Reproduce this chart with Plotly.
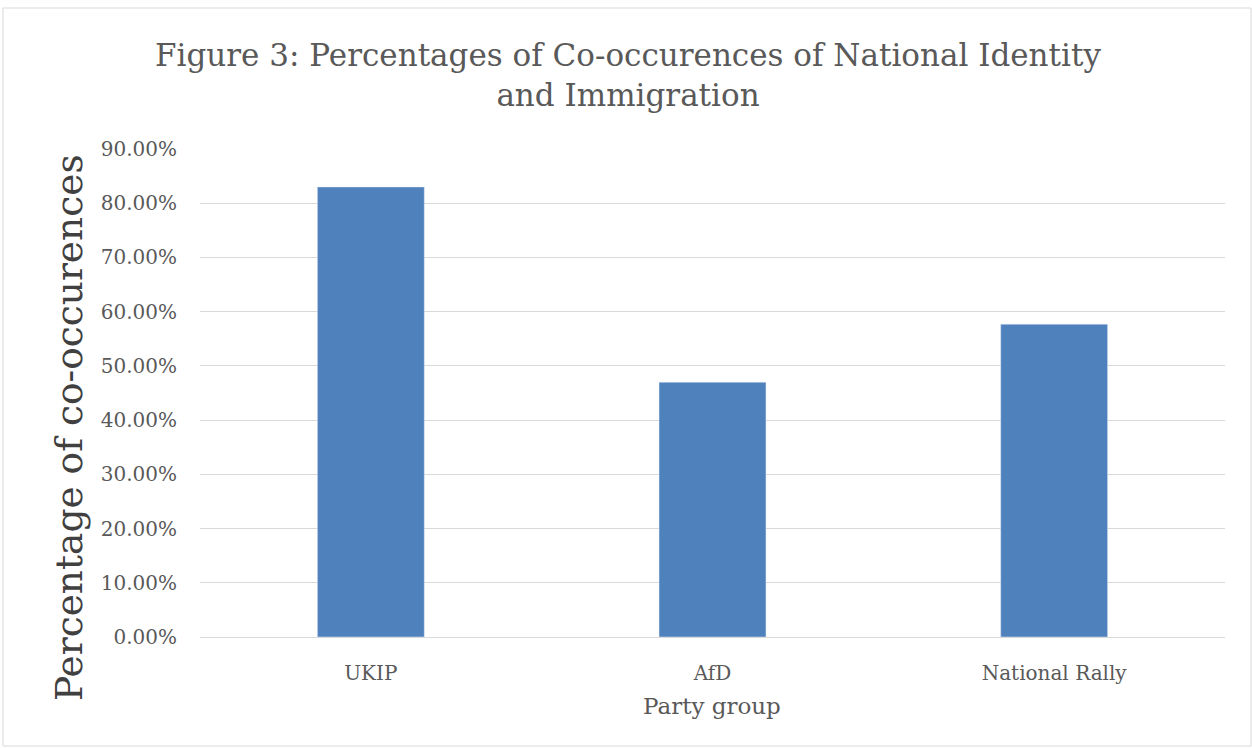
import plotly.graph_objects as go

categories = ["UKIP", "AfD", "National Rally"]
values = [0.830, 0.470, 0.577]
tick_vals = [0, 0.1, 0.2, 0.3, 0.4, 0.5, 0.6, 0.7, 0.8, 0.9]
tick_text = ["0.00%", "10.00%", "20.00%", "30.00%", "40.00%", "50.00%",
             "60.00%", "70.00%", "80.00%", "90.00%"]

W, H = 1252, 749
L, R, T, B = 200, 27, 149, 112
pw, ph = W - L - R, H - T - B

def px(x):
    return (x - L) / pw

def py(y):
    return (H - B - y) / ph

serif = "'DejaVu Serif', serif"

fig = go.Figure(go.Bar(x=categories, y=values, marker_color="#4F81BD",
                       width=0.313, hoverinfo="x+y"))

fig.update_layout(
    width=W, height=H,
    margin=dict(l=L, r=R, t=T, b=B, pad=0),
    paper_bgcolor="white", plot_bgcolor="white",
    showlegend=False,
    font=dict(family=serif, color="#595959"),
    title=dict(text="Figure 3: Percentages of Co-occurences of National Identity<br>and Immigration",
               x=(628) / W, xanchor="center", y=1 - 66 / H, yanchor="middle",
               font=dict(size=31, color="#595959", family=serif)),
    xaxis=dict(showline=False, showgrid=False, ticks="",
               tickfont=dict(size=20, color="#595959"), ticklabelstandoff=22),
    yaxis=dict(range=[0, 0.9], tickvals=tick_vals, ticktext=tick_text,
               showgrid=True, gridcolor="#D9D9D9", gridwidth=1,
               zeroline=True, zerolinecolor="#D9D9D9", zerolinewidth=1,
               showline=False, ticks="", ticklabelstandoff=22,
               tickfont=dict(size=20, color="#595959")),
    annotations=[
        dict(text="Percentage of co-occurences", xref="paper", yref="paper",
             x=px(69), y=py(428), xanchor="center", yanchor="middle",
             textangle=-90, showarrow=False,
             font=dict(size=37.5, color="#404040", family=serif)),
        dict(text="Party group", xref="paper", yref="paper",
             x=px(712), y=py(706), xanchor="center", yanchor="middle",
             showarrow=False, font=dict(size=23, color="#595959", family=serif)),
    ],
    shapes=[dict(type="rect", xref="paper", yref="paper",
                 x0=px(3), x1=px(1251), y0=py(746), y1=py(8),
                 line=dict(color="#D9D9D9", width=1), layer="below")],
)

fig.write_html("out.html")
